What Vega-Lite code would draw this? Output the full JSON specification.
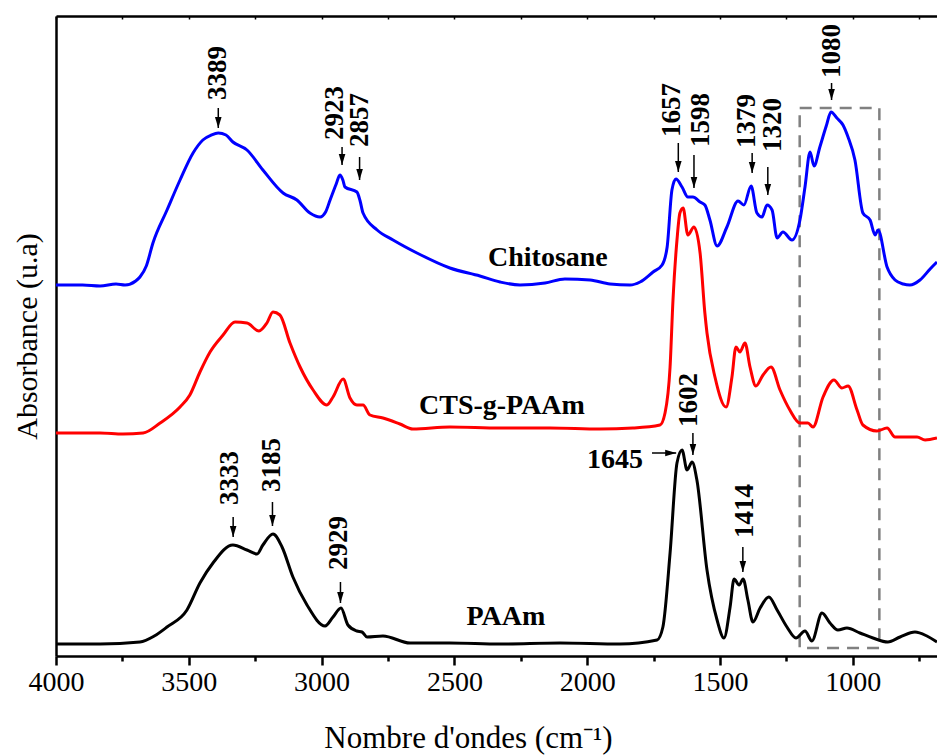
{
  "$schema": "https://vega.github.io/schema/vega-lite/v6.json",
  "width": 881,
  "height": 640,
  "autosize": {"type": "none"},
  "padding": {"left": 56, "top": 16, "right": 0, "bottom": 100},
  "background": "white",
  "config": {"view": {"stroke": null}, "font": "Liberation Serif"},
  "datasets": {
    "spectra": [
      {"s": "Chitosane", "w": 4000, "a": 3.71}, {"s": "Chitosane", "w": 3900, "a": 3.71}, {"s": "Chitosane", "w": 3834, "a": 3.70},
      {"s": "Chitosane", "w": 3774, "a": 3.72}, {"s": "Chitosane", "w": 3740, "a": 3.71}, {"s": "Chitosane", "w": 3700, "a": 3.75},
      {"s": "Chitosane", "w": 3684, "a": 3.79}, {"s": "Chitosane", "w": 3660, "a": 3.90}, {"s": "Chitosane", "w": 3635, "a": 4.13},
      {"s": "Chitosane", "w": 3582, "a": 4.46}, {"s": "Chitosane", "w": 3533, "a": 4.76}, {"s": "Chitosane", "w": 3484, "a": 5.03},
      {"s": "Chitosane", "w": 3447, "a": 5.16}, {"s": "Chitosane", "w": 3415, "a": 5.21}, {"s": "Chitosane", "w": 3389, "a": 5.23},
      {"s": "Chitosane", "w": 3360, "a": 5.21}, {"s": "Chitosane", "w": 3334, "a": 5.14}, {"s": "Chitosane", "w": 3281, "a": 5.06},
      {"s": "Chitosane", "w": 3221, "a": 4.86}, {"s": "Chitosane", "w": 3145, "a": 4.63}, {"s": "Chitosane", "w": 3093, "a": 4.56},
      {"s": "Chitosane", "w": 3044, "a": 4.43}, {"s": "Chitosane", "w": 3006, "a": 4.39}, {"s": "Chitosane", "w": 2985, "a": 4.44},
      {"s": "Chitosane", "w": 2968, "a": 4.56}, {"s": "Chitosane", "w": 2945, "a": 4.72}, {"s": "Chitosane", "w": 2931, "a": 4.81},
      {"s": "Chitosane", "w": 2920, "a": 4.76}, {"s": "Chitosane", "w": 2912, "a": 4.69}, {"s": "Chitosane", "w": 2867, "a": 4.64},
      {"s": "Chitosane", "w": 2855, "a": 4.55}, {"s": "Chitosane", "w": 2844, "a": 4.43}, {"s": "Chitosane", "w": 2791, "a": 4.26},
      {"s": "Chitosane", "w": 2731, "a": 4.16}, {"s": "Chitosane", "w": 2641, "a": 4.03}, {"s": "Chitosane", "w": 2517, "a": 3.88},
      {"s": "Chitosane", "w": 2404, "a": 3.80}, {"s": "Chitosane", "w": 2328, "a": 3.74}, {"s": "Chitosane", "w": 2253, "a": 3.71},
      {"s": "Chitosane", "w": 2159, "a": 3.73}, {"s": "Chitosane", "w": 2084, "a": 3.77}, {"s": "Chitosane", "w": 1989, "a": 3.76},
      {"s": "Chitosane", "w": 1914, "a": 3.72}, {"s": "Chitosane", "w": 1839, "a": 3.71}, {"s": "Chitosane", "w": 1801, "a": 3.74},
      {"s": "Chitosane", "w": 1752, "a": 3.84}, {"s": "Chitosane", "w": 1718, "a": 3.91}, {"s": "Chitosane", "w": 1699, "a": 4.09},
      {"s": "Chitosane", "w": 1681, "a": 4.66}, {"s": "Chitosane", "w": 1666, "a": 4.77}, {"s": "Chitosane", "w": 1643, "a": 4.69},
      {"s": "Chitosane", "w": 1621, "a": 4.59}, {"s": "Chitosane", "w": 1602, "a": 4.59}, {"s": "Chitosane", "w": 1575, "a": 4.54},
      {"s": "Chitosane", "w": 1557, "a": 4.51}, {"s": "Chitosane", "w": 1538, "a": 4.36}, {"s": "Chitosane", "w": 1511, "a": 4.10},
      {"s": "Chitosane", "w": 1474, "a": 4.29}, {"s": "Chitosane", "w": 1432, "a": 4.55}, {"s": "Chitosane", "w": 1410, "a": 4.51},
      {"s": "Chitosane", "w": 1383, "a": 4.70}, {"s": "Chitosane", "w": 1361, "a": 4.43}, {"s": "Chitosane", "w": 1342, "a": 4.39},
      {"s": "Chitosane", "w": 1323, "a": 4.51}, {"s": "Chitosane", "w": 1304, "a": 4.46}, {"s": "Chitosane", "w": 1285, "a": 4.18},
      {"s": "Chitosane", "w": 1263, "a": 4.24}, {"s": "Chitosane", "w": 1229, "a": 4.16}, {"s": "Chitosane", "w": 1199, "a": 4.36},
      {"s": "Chitosane", "w": 1180, "a": 4.69}, {"s": "Chitosane", "w": 1161, "a": 5.04}, {"s": "Chitosane", "w": 1146, "a": 4.90},
      {"s": "Chitosane", "w": 1124, "a": 5.09}, {"s": "Chitosane", "w": 1100, "a": 5.30}, {"s": "Chitosane", "w": 1082, "a": 5.44},
      {"s": "Chitosane", "w": 1060, "a": 5.38}, {"s": "Chitosane", "w": 1037, "a": 5.31}, {"s": "Chitosane", "w": 1018, "a": 5.19},
      {"s": "Chitosane", "w": 992, "a": 4.96}, {"s": "Chitosane", "w": 962, "a": 4.43}, {"s": "Chitosane", "w": 935, "a": 4.36},
      {"s": "Chitosane", "w": 916, "a": 4.21}, {"s": "Chitosane", "w": 905, "a": 4.26}, {"s": "Chitosane", "w": 871, "a": 3.89},
      {"s": "Chitosane", "w": 841, "a": 3.76}, {"s": "Chitosane", "w": 810, "a": 3.72}, {"s": "Chitosane", "w": 785, "a": 3.71},
      {"s": "Chitosane", "w": 747, "a": 3.76}, {"s": "Chitosane", "w": 709, "a": 3.87}, {"s": "Chitosane", "w": 683, "a": 3.94},

      {"s": "CTS-g-PAAm", "w": 4000, "a": 2.23}, {"s": "CTS-g-PAAm", "w": 3834, "a": 2.23}, {"s": "CTS-g-PAAm", "w": 3748, "a": 2.22},
      {"s": "CTS-g-PAAm", "w": 3672, "a": 2.23}, {"s": "CTS-g-PAAm", "w": 3608, "a": 2.33}, {"s": "CTS-g-PAAm", "w": 3533, "a": 2.49},
      {"s": "CTS-g-PAAm", "w": 3496, "a": 2.61}, {"s": "CTS-g-PAAm", "w": 3458, "a": 2.84}, {"s": "CTS-g-PAAm", "w": 3420, "a": 3.04},
      {"s": "CTS-g-PAAm", "w": 3371, "a": 3.21}, {"s": "CTS-g-PAAm", "w": 3326, "a": 3.34}, {"s": "CTS-g-PAAm", "w": 3281, "a": 3.33},
      {"s": "CTS-g-PAAm", "w": 3236, "a": 3.25}, {"s": "CTS-g-PAAm", "w": 3206, "a": 3.33}, {"s": "CTS-g-PAAm", "w": 3183, "a": 3.44},
      {"s": "CTS-g-PAAm", "w": 3157, "a": 3.41}, {"s": "CTS-g-PAAm", "w": 3119, "a": 3.13}, {"s": "CTS-g-PAAm", "w": 3081, "a": 2.89},
      {"s": "CTS-g-PAAm", "w": 3032, "a": 2.66}, {"s": "CTS-g-PAAm", "w": 2980, "a": 2.51}, {"s": "CTS-g-PAAm", "w": 2957, "a": 2.59},
      {"s": "CTS-g-PAAm", "w": 2919, "a": 2.77}, {"s": "CTS-g-PAAm", "w": 2893, "a": 2.58}, {"s": "CTS-g-PAAm", "w": 2867, "a": 2.51},
      {"s": "CTS-g-PAAm", "w": 2844, "a": 2.51}, {"s": "CTS-g-PAAm", "w": 2818, "a": 2.41}, {"s": "CTS-g-PAAm", "w": 2769, "a": 2.38},
      {"s": "CTS-g-PAAm", "w": 2705, "a": 2.32}, {"s": "CTS-g-PAAm", "w": 2656, "a": 2.27}, {"s": "CTS-g-PAAm", "w": 2517, "a": 2.29},
      {"s": "CTS-g-PAAm", "w": 2328, "a": 2.28}, {"s": "CTS-g-PAAm", "w": 2140, "a": 2.28}, {"s": "CTS-g-PAAm", "w": 1952, "a": 2.27},
      {"s": "CTS-g-PAAm", "w": 1828, "a": 2.28}, {"s": "CTS-g-PAAm", "w": 1726, "a": 2.31}, {"s": "CTS-g-PAAm", "w": 1707, "a": 2.43},
      {"s": "CTS-g-PAAm", "w": 1688, "a": 2.89}, {"s": "CTS-g-PAAm", "w": 1677, "a": 3.56}, {"s": "CTS-g-PAAm", "w": 1662, "a": 4.16},
      {"s": "CTS-g-PAAm", "w": 1651, "a": 4.43}, {"s": "CTS-g-PAAm", "w": 1639, "a": 4.48}, {"s": "CTS-g-PAAm", "w": 1621, "a": 4.21},
      {"s": "CTS-g-PAAm", "w": 1598, "a": 4.29}, {"s": "CTS-g-PAAm", "w": 1575, "a": 4.03}, {"s": "CTS-g-PAAm", "w": 1557, "a": 3.43},
      {"s": "CTS-g-PAAm", "w": 1549, "a": 3.23}, {"s": "CTS-g-PAAm", "w": 1519, "a": 2.79}, {"s": "CTS-g-PAAm", "w": 1477, "a": 2.49},
      {"s": "CTS-g-PAAm", "w": 1455, "a": 2.79}, {"s": "CTS-g-PAAm", "w": 1440, "a": 3.09}, {"s": "CTS-g-PAAm", "w": 1425, "a": 3.04},
      {"s": "CTS-g-PAAm", "w": 1406, "a": 3.13}, {"s": "CTS-g-PAAm", "w": 1387, "a": 2.89}, {"s": "CTS-g-PAAm", "w": 1365, "a": 2.70},
      {"s": "CTS-g-PAAm", "w": 1338, "a": 2.81}, {"s": "CTS-g-PAAm", "w": 1308, "a": 2.89}, {"s": "CTS-g-PAAm", "w": 1274, "a": 2.66},
      {"s": "CTS-g-PAAm", "w": 1237, "a": 2.46}, {"s": "CTS-g-PAAm", "w": 1199, "a": 2.33}, {"s": "CTS-g-PAAm", "w": 1169, "a": 2.33},
      {"s": "CTS-g-PAAm", "w": 1150, "a": 2.29}, {"s": "CTS-g-PAAm", "w": 1112, "a": 2.59}, {"s": "CTS-g-PAAm", "w": 1071, "a": 2.76},
      {"s": "CTS-g-PAAm", "w": 1041, "a": 2.68}, {"s": "CTS-g-PAAm", "w": 1018, "a": 2.70}, {"s": "CTS-g-PAAm", "w": 984, "a": 2.46},
      {"s": "CTS-g-PAAm", "w": 962, "a": 2.31}, {"s": "CTS-g-PAAm", "w": 909, "a": 2.25}, {"s": "CTS-g-PAAm", "w": 871, "a": 2.28},
      {"s": "CTS-g-PAAm", "w": 841, "a": 2.19}, {"s": "CTS-g-PAAm", "w": 758, "a": 2.19}, {"s": "CTS-g-PAAm", "w": 728, "a": 2.16},
      {"s": "CTS-g-PAAm", "w": 683, "a": 2.18},

      {"s": "PAAm", "w": 4000, "a": 0.12}, {"s": "PAAm", "w": 3834, "a": 0.12}, {"s": "PAAm", "w": 3684, "a": 0.14},
      {"s": "PAAm", "w": 3630, "a": 0.20}, {"s": "PAAm", "w": 3582, "a": 0.29}, {"s": "PAAm", "w": 3507, "a": 0.46},
      {"s": "PAAm", "w": 3458, "a": 0.73}, {"s": "PAAm", "w": 3409, "a": 0.93}, {"s": "PAAm", "w": 3334, "a": 1.11},
      {"s": "PAAm", "w": 3281, "a": 1.06}, {"s": "PAAm", "w": 3243, "a": 1.02}, {"s": "PAAm", "w": 3221, "a": 1.11},
      {"s": "PAAm", "w": 3183, "a": 1.22}, {"s": "PAAm", "w": 3149, "a": 1.09}, {"s": "PAAm", "w": 3108, "a": 0.79},
      {"s": "PAAm", "w": 3055, "a": 0.51}, {"s": "PAAm", "w": 2987, "a": 0.30}, {"s": "PAAm", "w": 2957, "a": 0.39},
      {"s": "PAAm", "w": 2927, "a": 0.48}, {"s": "PAAm", "w": 2901, "a": 0.31}, {"s": "PAAm", "w": 2867, "a": 0.25},
      {"s": "PAAm", "w": 2848, "a": 0.24}, {"s": "PAAm", "w": 2829, "a": 0.19}, {"s": "PAAm", "w": 2769, "a": 0.20},
      {"s": "PAAm", "w": 2667, "a": 0.13}, {"s": "PAAm", "w": 2517, "a": 0.13}, {"s": "PAAm", "w": 2328, "a": 0.12},
      {"s": "PAAm", "w": 2102, "a": 0.13}, {"s": "PAAm", "w": 1877, "a": 0.12}, {"s": "PAAm", "w": 1737, "a": 0.16},
      {"s": "PAAm", "w": 1715, "a": 0.29}, {"s": "PAAm", "w": 1688, "a": 1.03}, {"s": "PAAm", "w": 1662, "a": 1.93},
      {"s": "PAAm", "w": 1643, "a": 2.06}, {"s": "PAAm", "w": 1624, "a": 1.86}, {"s": "PAAm", "w": 1605, "a": 1.94},
      {"s": "PAAm", "w": 1587, "a": 1.76}, {"s": "PAAm", "w": 1549, "a": 0.86}, {"s": "PAAm", "w": 1511, "a": 0.36},
      {"s": "PAAm", "w": 1485, "a": 0.18}, {"s": "PAAm", "w": 1462, "a": 0.49}, {"s": "PAAm", "w": 1447, "a": 0.77},
      {"s": "PAAm", "w": 1428, "a": 0.71}, {"s": "PAAm", "w": 1413, "a": 0.77}, {"s": "PAAm", "w": 1395, "a": 0.56},
      {"s": "PAAm", "w": 1376, "a": 0.34}, {"s": "PAAm", "w": 1349, "a": 0.48}, {"s": "PAAm", "w": 1316, "a": 0.59},
      {"s": "PAAm", "w": 1285, "a": 0.46}, {"s": "PAAm", "w": 1248, "a": 0.29}, {"s": "PAAm", "w": 1214, "a": 0.18},
      {"s": "PAAm", "w": 1180, "a": 0.25}, {"s": "PAAm", "w": 1154, "a": 0.15}, {"s": "PAAm", "w": 1116, "a": 0.43},
      {"s": "PAAm", "w": 1086, "a": 0.33}, {"s": "PAAm", "w": 1056, "a": 0.26}, {"s": "PAAm", "w": 1022, "a": 0.28},
      {"s": "PAAm", "w": 973, "a": 0.23}, {"s": "PAAm", "w": 924, "a": 0.18}, {"s": "PAAm", "w": 868, "a": 0.14},
      {"s": "PAAm", "w": 822, "a": 0.19}, {"s": "PAAm", "w": 766, "a": 0.24}, {"s": "PAAm", "w": 721, "a": 0.20},
      {"s": "PAAm", "w": 683, "a": 0.14}
    ],
    "bands": [
      {"label": "3389", "w": 3389, "tw": 3389, "text": 5.56, "top": 5.48, "tip": 5.28},
      {"label": "2923", "w": 2923, "tw": 2950, "text": 5.16, "top": 5.09, "tip": 4.91},
      {"label": "2857", "w": 2857, "tw": 2855, "text": 5.09, "top": 4.99, "tip": 4.76},
      {"label": "1657", "w": 1657, "tw": 1682, "text": 5.19, "top": 5.13, "tip": 4.84},
      {"label": "1598", "w": 1598, "tw": 1570, "text": 5.09, "top": 5.01, "tip": 4.68},
      {"label": "1379", "w": 1379, "tw": 1400, "text": 5.08, "top": 5.03, "tip": 4.83},
      {"label": "1320", "w": 1320, "tw": 1302, "text": 5.04, "top": 4.89, "tip": 4.61},
      {"label": "1080", "w": 1080, "tw": 1080, "text": 5.78, "top": 5.73, "tip": 5.56},
      {"label": "1602", "w": 1602, "tw": 1615, "text": 2.29, "top": 2.23, "tip": 2.01},
      {"label": "3333", "w": 3333, "tw": 3345, "text": 1.51, "top": 1.39, "tip": 1.19},
      {"label": "3185", "w": 3185, "tw": 3185, "text": 1.64, "top": 1.54, "tip": 1.30},
      {"label": "2929", "w": 2929, "tw": 2933, "text": 0.86, "top": 0.74, "tip": 0.53},
      {"label": "1414", "w": 1414, "tw": 1405, "text": 1.18, "top": 1.09, "tip": 0.84}
    ],
    "side": [
      {"label": "1645", "w": 1790, "text": 1.88, "from": 1756, "to": 1665, "y": 2.03}
    ],
    "names": [
      {"name": "Chitosane", "w": 2148, "a": 3.98},
      {"name": "CTS-g-PAAm", "w": 2321, "a": 2.50},
      {"name": "PAAm", "w": 2306, "a": 0.39}
    ],
    "box": [
      {"w1": 1200, "w2": 900, "a1": 0.08, "a2": 5.48}
    ]
  },
  "resolve": {"axis": {"x": "independent", "y": "independent"}},
  "layer": [
    {
      "data": {"name": "box"},
      "mark": {"type": "rect", "fill": "white", "fillOpacity": 0, "stroke": "#808080", "strokeWidth": 2.5, "strokeDash": [12, 8]},
      "encoding": {
        "x": {"field": "w1", "type": "quantitative",
              "scale": {"domain": [683, 4000], "reverse": true, "nice": false, "zero": false},
              "axis": {"orient": "top", "values": [4000, 3750, 3500, 3250, 3000, 2750, 2500, 2250, 2000, 1750, 1500, 1250, 1000, 750],
                       "labels": false, "title": null, "grid": false, "domainColor": "black", "domainWidth": 2.5,
                       "tickColor": "black", "tickWidth": 1.5, "tickSize": -3}},
        "x2": {"field": "w2"},
        "y": {"field": "a1", "type": "quantitative", "scale": {"domain": [0, 6.4], "nice": false, "zero": false}, "axis": null},
        "y2": {"field": "a2"}
      }
    },
    {
      "data": {"name": "spectra"},
      "mark": {"type": "line", "strokeWidth": 3, "interpolate": "monotone"},
      "encoding": {
        "x": {"field": "w", "type": "quantitative",
              "scale": {"domain": [683, 4000], "reverse": true, "nice": false, "zero": false},
              "axis": {"orient": "bottom", "values": [4000, 3750, 3500, 3250, 3000, 2750, 2500, 2250, 2000, 1750, 1500, 1250, 1000, 750],
                       "labelExpr": "datum.value % 500 === 0 ? format(datum.value, 'd') : ''",
                       "labelFlush": false, "labelOverlap": false, "labelFont": "Liberation Serif", "labelFontSize": 28,
                       "labelColor": "black", "labelPadding": 3, "grid": false,
                       "domainColor": "black", "domainWidth": 2.5, "tickColor": "black", "tickWidth": 2.5,
                       "tickSize": {"condition": {"test": "datum.value % 500 === 0", "value": 9}, "value": 5},
                       "title": "Nombre d'ondes (cm⁻¹)", "titleFont": "Liberation Serif", "titleFontSize": 31,
                       "titleFontWeight": "normal", "titleColor": "black", "titleX": 412, "titleY": 91,
                       "titleAlign": "center", "titleBaseline": "alphabetic"}},
        "y": {"field": "a", "type": "quantitative", "scale": {"domain": [0, 6.4], "nice": false, "zero": false},
              "axis": {"domain": true, "domainColor": "black", "domainWidth": 2.5, "ticks": false, "labels": false, "grid": false,
                       "title": "Absorbance (u.a)", "titleFont": "Liberation Serif", "titleFontSize": 30, "titleFontWeight": "normal",
                       "titleColor": "black", "titleAngle": 270, "titleX": -29, "titleY": 320,
                       "titleAlign": "center", "titleBaseline": "middle"}},
        "color": {"field": "s", "type": "nominal",
                  "scale": {"domain": ["Chitosane", "CTS-g-PAAm", "PAAm"], "range": ["#0000ff", "#ff0000", "#000000"]},
                  "legend": null},
        "detail": {"field": "s"}
      }
    },
    {
      "data": {"name": "bands"},
      "mark": {"type": "rule", "color": "black", "strokeWidth": 1.5},
      "encoding": {
        "x": {"field": "w", "type": "quantitative", "scale": {"domain": [683, 4000], "reverse": true, "nice": false, "zero": false}, "axis": null},
        "y": {"field": "top", "type": "quantitative", "scale": {"domain": [0, 6.4], "nice": false, "zero": false}, "axis": null},
        "y2": {"field": "tip"}
      }
    },
    {
      "data": {"name": "bands"},
      "mark": {"type": "point", "shape": "M-0.6,-1L0.6,-1L0,1Z", "size": 121, "filled": true, "color": "black", "opacity": 1, "yOffset": -5.5},
      "encoding": {
        "x": {"field": "w", "type": "quantitative", "scale": {"domain": [683, 4000], "reverse": true, "nice": false, "zero": false}, "axis": null},
        "y": {"field": "tip", "type": "quantitative", "scale": {"domain": [0, 6.4], "nice": false, "zero": false}, "axis": null}
      }
    },
    {
      "data": {"name": "bands"},
      "mark": {"type": "text", "angle": 270, "align": "left", "baseline": "middle", "font": "Liberation Serif",
               "fontSize": 27, "fontWeight": "bold", "color": "black"},
      "encoding": {
        "x": {"field": "tw", "type": "quantitative", "scale": {"domain": [683, 4000], "reverse": true, "nice": false, "zero": false}, "axis": null},
        "y": {"field": "text", "type": "quantitative", "scale": {"domain": [0, 6.4], "nice": false, "zero": false}, "axis": null},
        "text": {"field": "label"}
      }
    },
    {
      "data": {"name": "side"},
      "mark": {"type": "rule", "color": "black", "strokeWidth": 1.5},
      "encoding": {
        "x": {"field": "from", "type": "quantitative", "scale": {"domain": [683, 4000], "reverse": true, "nice": false, "zero": false}, "axis": null},
        "x2": {"field": "to"},
        "y": {"field": "y", "type": "quantitative", "scale": {"domain": [0, 6.4], "nice": false, "zero": false}, "axis": null}
      }
    },
    {
      "data": {"name": "side"},
      "mark": {"type": "point", "shape": "M-1,-0.6L-1,0.6L1,0Z", "size": 121, "filled": true, "color": "black", "opacity": 1, "xOffset": -5.5},
      "encoding": {
        "x": {"field": "to", "type": "quantitative", "scale": {"domain": [683, 4000], "reverse": true, "nice": false, "zero": false}, "axis": null},
        "y": {"field": "y", "type": "quantitative", "scale": {"domain": [0, 6.4], "nice": false, "zero": false}, "axis": null}
      }
    },
    {
      "data": {"name": "side"},
      "mark": {"type": "text", "align": "right", "baseline": "alphabetic", "font": "Liberation Serif",
               "fontSize": 28, "fontWeight": "bold", "color": "black"},
      "encoding": {
        "x": {"field": "w", "type": "quantitative", "scale": {"domain": [683, 4000], "reverse": true, "nice": false, "zero": false}, "axis": null},
        "y": {"field": "text", "type": "quantitative", "scale": {"domain": [0, 6.4], "nice": false, "zero": false}, "axis": null},
        "text": {"field": "label"}
      }
    },
    {
      "data": {"name": "names"},
      "mark": {"type": "text", "align": "center", "baseline": "middle", "font": "Liberation Serif",
               "fontSize": 28, "fontWeight": "bold", "color": "black"},
      "encoding": {
        "x": {"field": "w", "type": "quantitative", "scale": {"domain": [683, 4000], "reverse": true, "nice": false, "zero": false}, "axis": null},
        "y": {"field": "a", "type": "quantitative", "scale": {"domain": [0, 6.4], "nice": false, "zero": false}, "axis": null},
        "text": {"field": "name"}
      }
    }
  ]
}
